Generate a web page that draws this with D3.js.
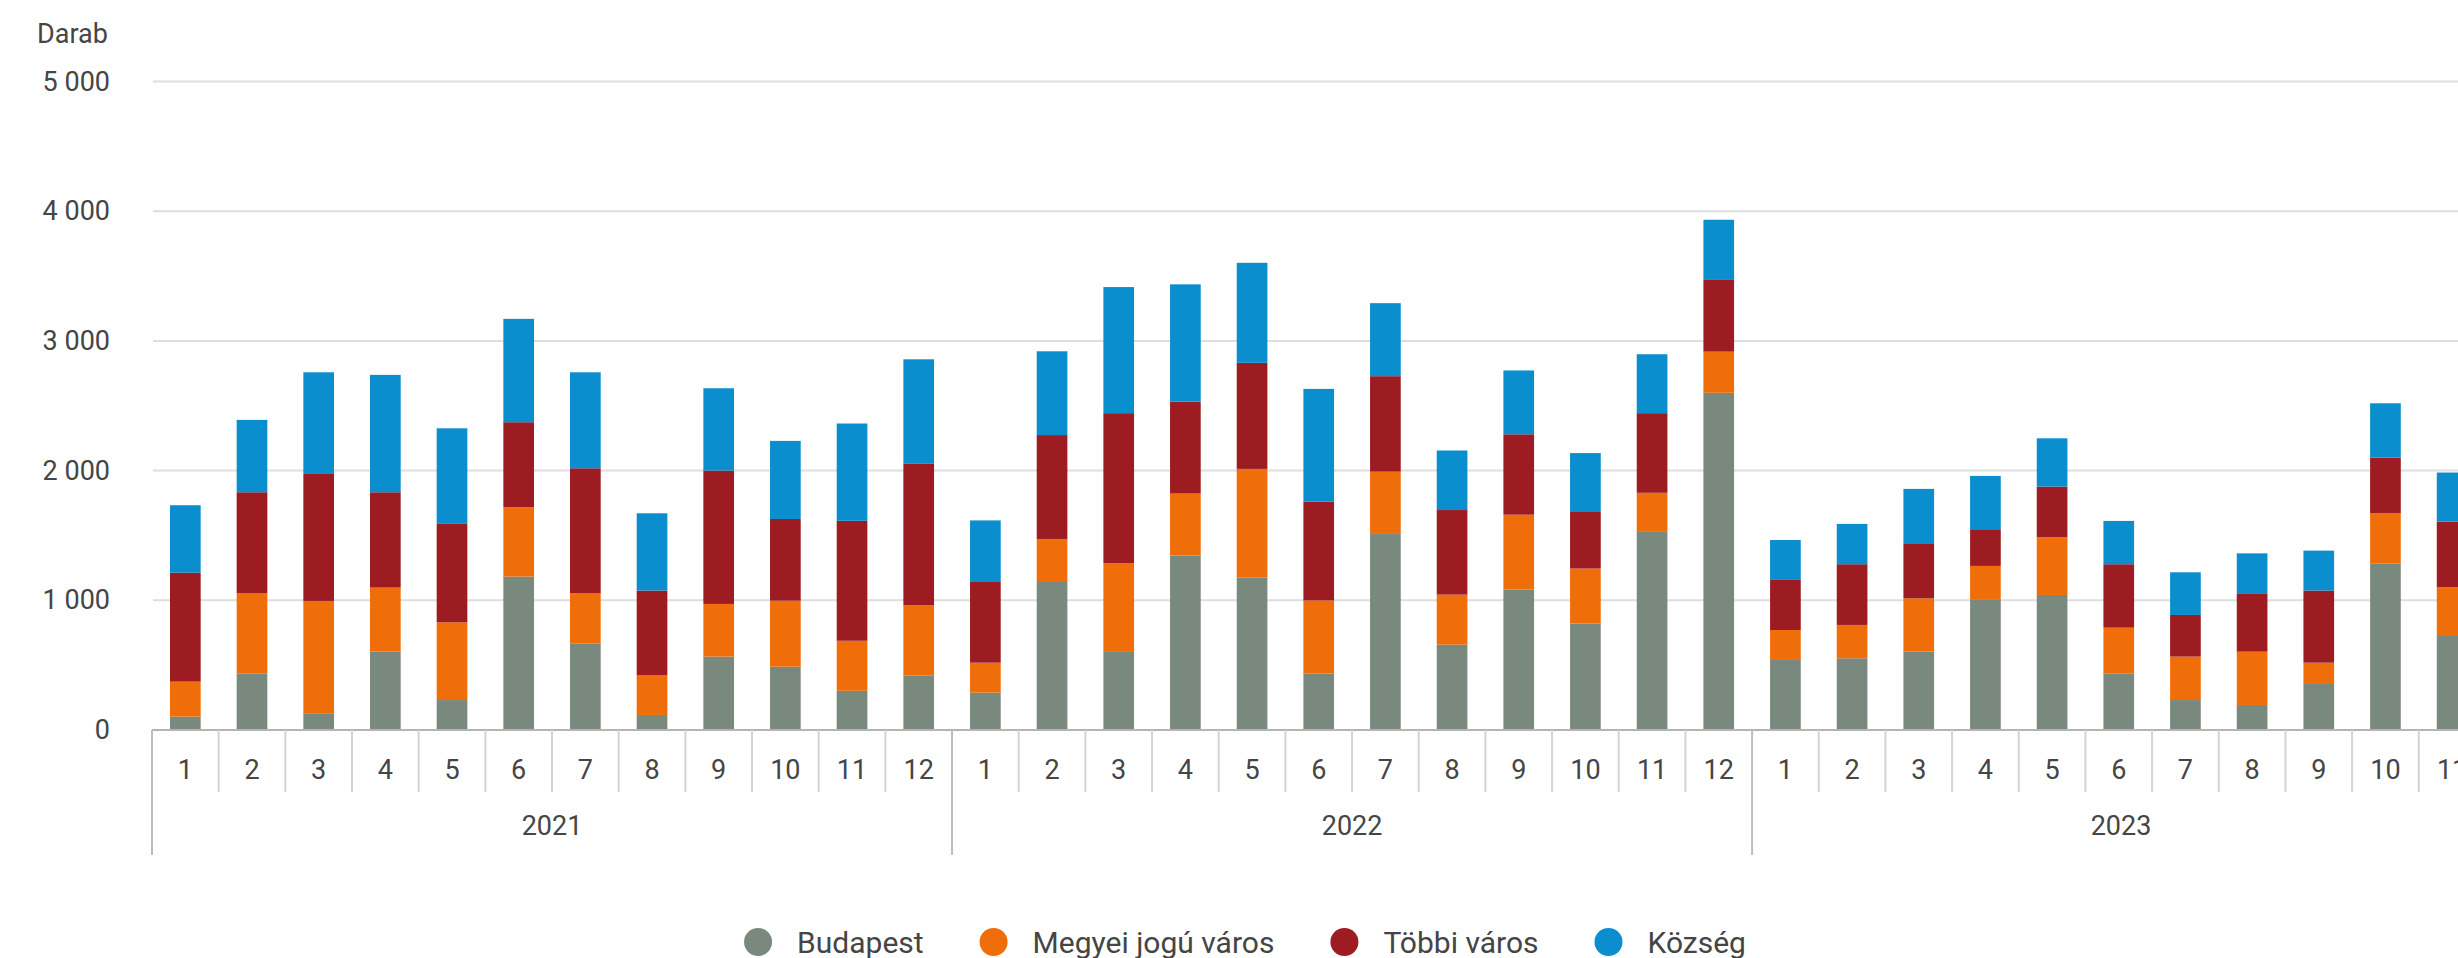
<!DOCTYPE html>
<html>
<head>
<meta charset="utf-8">
<script src="https://cdn.jsdelivr.net/npm/d3@7"></script>
<style>
  html, body { margin: 0; padding: 0; background: #ffffff; overflow: hidden; }
  svg { display: block; }
  text { font-family: Roboto, "Noto Sans", "Liberation Sans", sans-serif; fill: #454545; }
</style>
</head>
<body>
<svg id="chart"></svg>
<script>
// Monthly counts by settlement type, 2021–2023
const years = ["2021", "2022", "2023"];
const months = ["1", "2", "3", "4", "5", "6", "7", "8", "9", "10", "11", "12"];
const seriesNames = ["Budapest", "Megyei jogú város", "Többi város", "Község"];
const seriesColors = ["#7a897d", "#f06e0a", "#9c1c22", "#0b8ece"];

const budapest = [
  103, 437, 129, 604, 231, 1183, 668, 116, 566, 488, 302, 421,
  288, 1141, 608, 1346, 1177, 436, 1518, 658, 1082, 821, 1533, 2600,
  540, 553, 604, 1003, 1041, 437, 231, 193, 355, 1285, 725, null
];
const megyeiJogu = [
  270, 617, 866, 494, 599, 534, 386, 308, 406, 509, 386, 540,
  231, 332, 679, 477, 836, 563, 474, 386, 578, 424, 296, 317,
  231, 257, 411, 262, 445, 352, 335, 411, 164, 386, 375, null
];
const tobbiVaros = [
  840, 779, 979, 735, 759, 656, 964, 651, 1028, 630, 925, 1091,
  622, 801, 1156, 709, 818, 762, 736, 652, 620, 436, 614, 558,
  386, 468, 425, 283, 391, 489, 321, 450, 556, 429, 507, null
];
const kozseg = [
  520, 558, 784, 905, 737, 797, 740, 596, 635, 602, 750, 806,
  475, 646, 972, 904, 771, 869, 563, 459, 492, 454, 454, 459,
  308, 311, 419, 411, 372, 334, 329, 308, 308, 419, 378, null
];
const yTicks = [0, 1000, 2000, 3000, 4000, 5000];
const yUnit = "Darab";

// Chart geometry
const W = 2490, H = 958;
const plotLeft = 152, stepW = 66.67;
const plotRight = plotLeft + years.length * months.length * stepW;
const yBase = 730, yTopPx = 81.5;

const svg = d3.select("#chart").attr("width", W).attr("height", H);

// One row per month
const rows = [];
years.forEach((yr, yi) => months.forEach((m, mi) => {
  const i = yi * months.length + mi;
  rows.push({
    key: yr + "-" + m, year: yr, month: m,
    has: budapest[i] != null,
    [seriesNames[0]]: budapest[i] || 0,
    [seriesNames[1]]: megyeiJogu[i] || 0,
    [seriesNames[2]]: tobbiVaros[i] || 0,
    [seriesNames[3]]: kozseg[i] || 0
  });
}));

const pad = 0.54;
const x = d3.scaleBand()
  .domain(rows.map(d => d.key))
  .range([plotLeft, plotRight])
  .paddingInner(pad)
  .paddingOuter(pad / 2);

const y = d3.scaleLinear().domain([0, 5000]).range([yBase, yTopPx]);

const fmt = d3.formatLocale({ decimal: ",", thousands: " ", grouping: [3], currency: ["", ""] }).format(",d");

// Horizontal gridlines
svg.append("g")
  .selectAll("line")
  .data(yTicks.filter(t => t > 0))
  .join("line")
  .attr("x1", plotLeft + 1).attr("x2", W)
  .attr("y1", d => y(d)).attr("y2", d => y(d))
  .attr("stroke", "#dedede").attr("stroke-width", 2);

// Y tick labels
svg.append("g")
  .selectAll("text")
  .data(yTicks)
  .join("text")
  .attr("x", 110).attr("y", d => y(d))
  .attr("text-anchor", "end").attr("dominant-baseline", "central")
  .style("font-size", "27px")
  .text(d => fmt(d));

svg.append("text")
  .attr("x", 37).attr("y", 34)
  .attr("dominant-baseline", "central")
  .style("font-size", "27px")
  .text(yUnit);

// Stacked bars
const stack = d3.stack().keys(seriesNames);
const layers = stack(rows);
const color = d3.scaleOrdinal().domain(seriesNames).range(seriesColors);

svg.append("g")
  .selectAll("g")
  .data(layers)
  .join("g")
  .attr("fill", d => color(d.key))
  .selectAll("rect")
  .data(d => d.filter(p => p.data.has))
  .join("rect")
  .attr("x", d => x(d.data.key))
  .attr("width", x.bandwidth())
  .attr("y", d => y(d[1]))
  .attr("height", d => y(d[0]) - y(d[1]));

// Category axis: baseline, month separators, year separators
const axis = svg.append("g");
axis.append("line")
  .attr("x1", plotLeft).attr("x2", W)
  .attr("y1", yBase).attr("y2", yBase)
  .attr("stroke", "#b4b4b4").attr("stroke-width", 2);

const step = x.step();
const boundaries = d3.range(0, rows.length + 1);
axis.selectAll("line.sep")
  .data(boundaries)
  .join("line")
  .attr("class", "sep")
  .attr("x1", i => plotLeft + i * step).attr("x2", i => plotLeft + i * step)
  .attr("y1", yBase)
  .attr("y2", i => (i % months.length === 0 ? 855 : 792))
  .attr("stroke", i => (i % months.length === 0 ? "#bdbdbd" : "#d4d4d4"))
  .attr("stroke-width", 2);

axis.selectAll("text.month")
  .data(rows)
  .join("text")
  .attr("class", "month")
  .attr("x", d => x(d.key) + x.bandwidth() / 2)
  .attr("y", 770)
  .attr("text-anchor", "middle").attr("dominant-baseline", "central")
  .style("font-size", "27px")
  .text(d => d.month);

axis.selectAll("text.year")
  .data(years)
  .join("text")
  .attr("class", "year")
  .attr("x", (yr, yi) => {
    const a = plotLeft + yi * months.length * step;
    const b = Math.min(plotLeft + (yi + 1) * months.length * step, W);
    return (a + b) / 2;
  })
  .attr("y", 826)
  .attr("text-anchor", "middle").attr("dominant-baseline", "central")
  .style("font-size", "27px")
  .text(d => d);

// Legend, centred under the chart
const legend = svg.append("g");
const items = legend.selectAll("g")
  .data(seriesNames)
  .join("g");
items.append("circle")
  .attr("r", 14).attr("cx", 14).attr("cy", 0)
  .attr("fill", d => color(d));
items.append("text")
  .attr("x", 53).attr("y", 0)
  .attr("dominant-baseline", "central")
  .style("font-size", "30px")
  .text(d => d);

let offset = 0;
const gap = 56;
items.each(function () {
  const g = d3.select(this);
  const tw = g.select("text").node().getComputedTextLength();
  g.attr("transform", `translate(${offset},0)`);
  offset += 53 + tw + gap;
});
const legendWidth = offset - gap;
legend.attr("transform", `translate(${W / 2 - legendWidth / 2},942)`);
</script>
</body>
</html>
